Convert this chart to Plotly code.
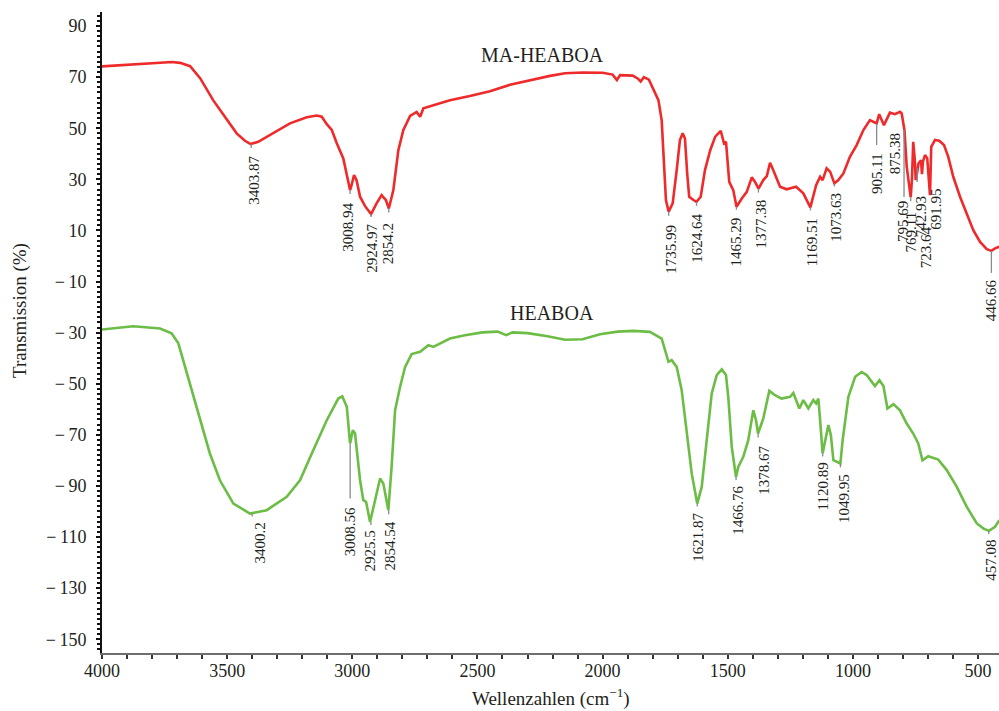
import plotly.graph_objects as go

# ---------------- data ----------------
ma_wn = [4000, 3900, 3820, 3720, 3688, 3648, 3608, 3581, 3556, 3509, 3462, 3429, 3406, 3376, 3316, 3249,
         3182, 3142, 3122, 3102, 3082, 3062, 3036, 3022, 3009, 3003, 2993, 2983, 2969, 2949, 2925, 2903,
         2883, 2866, 2854, 2836, 2816, 2796, 2769, 2743, 2729, 2716, 2676, 2610, 2530, 2450, 2370, 2290,
         2210, 2150, 2080, 2000, 1960, 1943, 1930, 1880, 1860, 1848, 1835, 1815, 1797, 1777, 1764, 1757,
         1747, 1736, 1720, 1704, 1691, 1680, 1671, 1662, 1654, 1637, 1625, 1608, 1591, 1570, 1550, 1528,
         1515, 1507, 1494, 1478, 1465, 1444, 1424, 1404, 1391, 1377, 1358, 1344, 1331, 1318, 1291, 1265,
         1227, 1198, 1170, 1147, 1131, 1121, 1105, 1091, 1074, 1058, 1038, 1012, 985, 958, 932, 905,
         895, 876, 852, 832, 812, 805, 798, 794, 785, 775, 769, 764, 759, 753, 749, 743, 738, 728,
         724, 720, 712, 703, 697, 692, 687, 672, 655, 636, 619, 599, 572, 545, 519, 492, 465, 447,
         432, 416]
ma_t = [74.2, 74.8, 75.3, 75.9, 75.6, 74.3, 69.6, 64.9, 61.0, 54.5, 48.0, 45.1, 43.8, 44.7, 48.0, 51.9,
        54.3, 55.0, 54.5, 51.6, 49.3, 44.1, 38.2, 31.0, 25.8, 27.7, 31.7, 29.7, 23.2, 19.5, 16.4, 20.6,
        23.8, 21.9, 18.6, 25.8, 41.4, 49.3, 54.8, 56.4, 54.5, 57.8, 59.1, 61.0, 62.6, 64.5, 67.0, 68.9,
        70.5, 71.5, 71.8, 71.7, 71.0, 68.9, 70.8, 70.6, 69.5, 68.3, 70.0, 69.0, 64.9, 61.0, 53.2, 38.8,
        21.9, 17.3, 20.6, 33.6, 45.4, 48.0, 46.0, 32.3, 23.2, 21.9, 21.2, 23.2, 33.6, 41.4, 46.7, 49.0,
        44.1, 44.7, 29.0, 25.8, 19.3, 22.5, 25.1, 30.8, 29.0, 26.4, 29.7, 31.3, 36.5, 33.6, 27.1, 26.1,
        27.1, 24.5, 19.0, 27.7, 31.0, 29.7, 34.3, 33.0, 28.4, 29.7, 32.3, 38.8, 43.4, 49.3, 53.2, 51.9,
        55.5, 51.2, 56.1, 55.5, 56.4, 55.8, 50.6, 49.3, 35.0, 26.0, 23.0, 30.0, 44.7, 38.0, 29.7, 33.0, 36.2, 37.5,
        32.0, 37.0, 39.5, 38.2, 30.0, 23.8, 42.7, 45.4, 45.1, 43.4, 38.8, 31.0, 23.2, 16.7, 10.1, 5.5, 2.7, 2.0,
        3.0, 3.6]

he_wn = [4000, 3875, 3768, 3722, 3695, 3668, 3642, 3608, 3569, 3529, 3475, 3409, 3342, 3262, 3209, 3156,
         3102, 3056, 3040, 3022, 3009, 2998, 2989, 2969, 2956, 2945, 2929, 2909, 2889, 2876, 2856, 2843,
         2829, 2809, 2789, 2763, 2729, 2696, 2676, 2610, 2550, 2480, 2420, 2385, 2360, 2300, 2220, 2150,
         2080, 2010, 1940, 1877, 1811, 1764, 1751, 1737, 1724, 1704, 1684, 1664, 1644, 1622, 1604, 1584,
         1564, 1544, 1524, 1507, 1498, 1484, 1467, 1458, 1438, 1418, 1398, 1387, 1379, 1358, 1345, 1334,
         1311, 1285, 1251, 1238, 1214, 1198, 1178, 1158, 1147, 1138, 1131, 1121, 1098, 1088, 1078, 1065,
         1050, 1041, 1018, 991, 965, 945, 929, 912, 894, 878, 862, 838, 812, 785, 759, 739,
         722, 699, 659, 625, 585, 545, 505, 478, 457, 432, 415]
he_t = [-28.8, -27.5, -28.4, -30.3, -34.2, -43.4, -52.5, -64.3, -77.3, -87.8, -96.9, -100.8, -99.5, -94.3, -87.8, -76.0,
        -64.3, -55.8, -54.9, -59.0, -73.4, -68.2, -69.5, -87.8, -95.6, -96.2, -104.1, -95.6, -87.1, -89.1, -99.5, -82.6,
        -60.4, -51.2, -43.4, -38.4, -37.5, -34.9, -35.6, -32.3, -31.0, -29.9, -29.6, -31.0, -29.9, -30.2, -31.4, -32.8,
        -32.6, -30.6, -29.6, -29.3, -29.7, -32.3, -36.9, -41.4, -40.8, -43.4, -52.5, -68.2, -85.1, -96.9, -90.4, -72.1,
        -53.8, -46.6, -44.4, -46.6, -55.1, -74.7, -86.5, -82.6, -78.6, -72.1, -60.4, -64.3, -69.5, -63.6, -57.7, -52.8,
        -54.5, -55.8, -55.1, -53.6, -59.7, -56.4, -59.7, -56.4, -57.7, -55.8, -64.3, -77.3, -66.2, -70.1, -79.9, -80.6,
        -81.2, -72.1, -55.1, -47.3, -45.4, -46.6, -48.6, -50.9, -48.6, -50.9, -59.7, -58.0, -60.4, -65.6, -69.5, -73.4,
        -80.0, -78.4, -79.7, -83.8, -90.4, -98.2, -104.7, -106.7, -107.6, -106.0, -103.4]

# peak labels: label text, wavenumber, transmission at the peak
ma_peak_lbl = ["3403.87", "3008.94", "2924.97", "2854.2", "1735.99", "1624.64", "1465.29", "1377.38",
               "1169.51", "1073.63", "905.11", "875.38", "795.69", "769.11", "742.93", "723.64", "691.95", "446.66"]
ma_peak_wn = [3403.87, 3008.94, 2924.97, 2854.2, 1735.99, 1624.64, 1465.29, 1377.38,
              1169.51, 1073.63, 905.11, 875.38, 795.69, 769.11, 742.93, 723.64, 691.95, 446.66]
ma_peak_t = [43.8, 25.8, 16.4, 18.6, 17.3, 21.2, 19.3, 26.4, 19.0, 28.4, 51.9, 51.2, 49.3, 23.0, 34.4, 30.5, 23.8, 2.0]

he_peak_lbl = ["3400.2", "3008.56", "2925.5", "2854.54", "1621.87", "1466.76", "1378.67", "1120.89", "1049.95", "457.08"]
he_peak_wn = [3400.2, 3008.56, 2925.5, 2854.54, 1621.87, 1466.76, 1378.67, 1120.89, 1049.95, 457.08]
he_peak_t = [-100.8, -73.4, -104.1, -99.5, -96.9, -86.5, -69.5, -77.3, -81.2, -107.6]

y_ticks = list(range(-150, 91, 20))
y_ticktext = [("−\u2009" + str(-v)) if v < 0 else str(v) for v in y_ticks]
x_ticks = [4000, 3500, 3000, 2500, 2000, 1500, 1000, 500]

# ---------------- label layout (pixels): text offset below peak, leader length, x shift ----------------
ma_off = [11, 11.7, 9, 13.4, 11.7, 11, 10, 10, 9.4, 8.4, 28.4, 7, 70, 13, 27, 47, -7, 27]
ma_lead = [4, 4, 3, 4, 4, 4, 3, 4, 3, 3, 21.7, 0, 67, 4, 14, 0, 0, 22]
ma_xs = [2, -1.5, 0, 0, 2, 1, 0, 3, 1, 2, 1, 10.6, -1.5, 0, 3.5, 4, 6, -1]
he_off = [8.4, 63, 7, 10, 8.4, 8.3, 11.7, 8.4, 10, 7.5]
he_lead = [3, 55, 3, 4, 3, 3, 4, 3, 4, 3]
he_xs = [8, 0, -1, 1, 1, 2, 6, 0, 3.6, 2]

W, H = 999, 711
ML, MR, MT, MB = 102, 0, 12, 58
Y_RANGE = [-155.4, 95.5]
X_RANGE = [4000, 416.3]
PPU = (H - MT - MB) / (Y_RANGE[1] - Y_RANGE[0])

RED = "#ee2a2b"
GREEN = "#6cbd45"
TXT = "#231f20"
FONT = "Liberation Serif"

fig = go.Figure()
fig.add_trace(go.Scatter(x=ma_wn, y=ma_t, mode="lines", line=dict(color=RED, width=2.6),
                         name="MA-HEABOA", showlegend=False, hoverinfo="skip"))
fig.add_trace(go.Scatter(x=he_wn, y=he_t, mode="lines", line=dict(color=GREEN, width=2.6),
                         name="HEABOA", showlegend=False, hoverinfo="skip"))

shapes = []
annotations = []
for lbls, wns, ts, offs, leads, xss in [
    (ma_peak_lbl, ma_peak_wn, ma_peak_t, ma_off, ma_lead, ma_xs),
    (he_peak_lbl, he_peak_wn, he_peak_t, he_off, he_lead, he_xs),
]:
    for lbl, wn, t, off, lead, xs in zip(lbls, wns, ts, offs, leads, xss):
        if lead > 0:
            shapes.append(dict(type="line", xref="x", yref="y", x0=wn, x1=wn, y0=t, y1=t - lead / PPU,
                               line=dict(color="#8a8a8a", width=1.3), layer="above"))
        annotations.append(dict(x=wn, y=t, xref="x", yref="y", text=lbl, textangle=-90, showarrow=False,
                                xanchor="center", yanchor="top", yshift=-off, xshift=xs, borderpad=0,
                                font=dict(family=FONT, size=15, color=TXT)))

annotations.append(dict(x=2240, y=78.6, xref="x", yref="y", text="MA-HEABOA", showarrow=False,
                        font=dict(family=FONT, size=20, color=TXT)))
annotations.append(dict(x=2202, y=-22.2, xref="x", yref="y", text="HEABOA", showarrow=False,
                        font=dict(family=FONT, size=20, color=TXT)))
annotations.append(dict(x=(20 - ML) / (W - ML - MR), y=(H - MB - 311) / (H - MT - MB), xref="paper", yref="paper",
                        text="Transmission (%)", textangle=-90, showarrow=False,
                        xanchor="center", yanchor="middle", font=dict(family=FONT, size=19, color=TXT)))
annotations.append(dict(x=0.5, y=-(697 - (H - MB)) / (H - MT - MB), xref="paper", yref="paper",
                        text="Wellenzahlen (cm<sup>−1</sup>)", showarrow=False,
                        xanchor="center", yanchor="middle", font=dict(family=FONT, size=19, color=TXT)))

fig.update_layout(
    width=W, height=H,
    margin=dict(l=ML, r=MR, t=MT, b=MB),
    paper_bgcolor="white", plot_bgcolor="white",
    shapes=shapes, annotations=annotations,
    showlegend=False,
)
fig.update_xaxes(range=X_RANGE, tickvals=x_ticks, ticktext=[str(v) for v in x_ticks],
                 showgrid=False, zeroline=False, showline=True, linecolor="#6e6e6e", linewidth=2,
                 ticks="outside", ticklen=4, tickwidth=1.5, tickcolor="#333",
                 minor=dict(dtick=100, ticks="outside", ticklen=4, tickwidth=1.5, tickcolor="#333"),
                 ticklabelstandoff=-4,
                 tickfont=dict(family=FONT, size=18, color=TXT))
fig.update_yaxes(range=Y_RANGE, tickvals=y_ticks, ticktext=y_ticktext, showgrid=False, zeroline=False, showline=True,
                 linecolor="#111", linewidth=2, ticks="outside", ticklen=4, tickwidth=2, tickcolor="#111",
                 minor=dict(dtick=2, tick0=0, ticks="outside", ticklen=3, tickwidth=2, tickcolor="#111"),
                 ticklabelstandoff=6,
                 tickfont=dict(family=FONT, size=18, color=TXT))

fig.write_html("out.html")
